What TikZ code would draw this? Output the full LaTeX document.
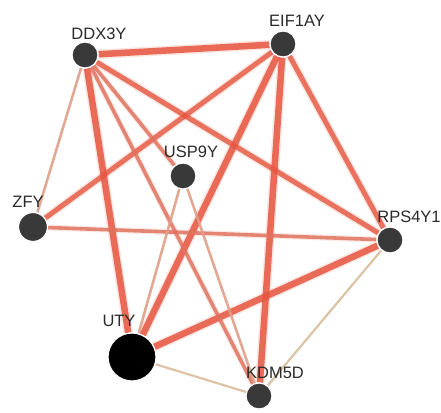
\documentclass[tikz,border=0pt]{standalone}
\usepackage{fontspec}
\setsansfont{Liberation Sans}
\usetikzlibrary{backgrounds}
\definecolor{edgered}{HTML}{E5553F}
\definecolor{edgesalmon}{HTML}{E0735F}
\definecolor{edgepink}{HTML}{DF9E88}
\definecolor{edgetan}{HTML}{D8BC9C}
\definecolor{genegray}{HTML}{393939}
\definecolor{labelgray}{HTML}{2A2A2A}

\begin{document}
\begin{tikzpicture}[
  x=1pt, y=-1pt,
  gene/.style={circle, draw=white, line width=1.2pt, fill=genegray,
    minimum size=26pt, inner sep=0pt},
  hub/.style={gene, fill=black, minimum size=48pt},
  lbl/.style={font=\sffamily\fontsize{16.5}{16.5}\selectfont, text=labelgray,
    inner sep=0pt},
  strong/.style={draw=edgered, line width=6.5pt, draw opacity=.85,
    preaction={draw=edgered, line width=9.5pt, draw opacity=.15}},
  heavy/.style={draw=edgered, line width=5pt, draw opacity=.8,
    preaction={draw=edgered, line width=8pt, draw opacity=.15}},
  mid/.style={draw=edgesalmon, line width=3.6pt, draw opacity=.85,
    preaction={draw=edgesalmon, line width=6pt, draw opacity=.15}},
  weak/.style={draw=edgepink, line width=2.6pt, draw opacity=.9},
  faint/.style={draw=edgetan, line width=2.2pt, draw opacity=.9}
]
  \useasboundingbox (0,0) rectangle (441,412);

  % Genes
  \node[gene] (ddx) at (85,55) {};
  \node[gene] (eif) at (283,44) {};
  \node[gene] (usp) at (183,176) {};
  \node[gene, minimum size=29pt] (zfy) at (33,227) {};
  \node[gene] (rps) at (390,240) {};
  \node[hub] (uty) at (132,357) {};
  \node[gene] (kdm) at (259,396) {};

  % Labels
  \node[lbl] (ddx-l) at (99,34) {DDX3Y};
  \node[lbl] (eif-l) at (297,21) {EIF1AY};
  \node[lbl] (usp-l) at (191,152) {USP9Y};
  \node[lbl] (zfy-l) at (28,202) {ZFY};
  \node[lbl] (rps-l) at (409,217) {RPS4Y1};
  \node[lbl] (uty-l) at (119,321) {UTY};
  \node[lbl] (kdm-l) at (275,373) {KDM5D};

  % Interactions
  \begin{scope}[on background layer]
    \foreach \a/\b in {ddx/eif, eif/uty, eif/kdm, ddx/uty, uty/rps}
      \draw[strong] (\a) -- (\b);
    \foreach \a/\b in {ddx/rps, eif/rps, eif/zfy}
      \draw[heavy] (\a) -- (\b);
    \foreach \a/\b in {zfy/rps, ddx/kdm, ddx/usp}
      \draw[mid] (\a) -- (\b);
    \foreach \a/\b in {ddx/zfy, usp/uty, usp/kdm}
      \draw[weak] (\a) -- (\b);
    \foreach \a/\b in {uty/kdm, rps/kdm}
      \draw[faint] (\a) -- (\b);
  \end{scope}
\end{tikzpicture}
\end{document}
